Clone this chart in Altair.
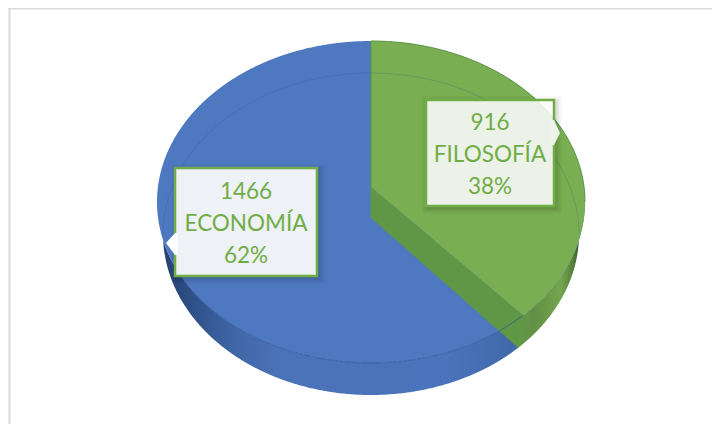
import math
import altair as alt
import pandas as pd

categories = ["ECONOMÍA", "FILOSOFÍA"]
counts = [1466, 916]
percents = ["62%", "38%"]

# picture geometry (pixels of the page)
CX, CY, RX, RY, DEPTH = 371.0, 202.0, 214.0, 161.0, 32.0
RX_LOW = 208.0
HUB = (371.0, 187.0)
TOTAL = sum(counts)
T_END = math.radians(360 * counts[1] / TOTAL * 0.973)
SEAM = (CX + RX * math.sin(T_END), CY - RY * math.cos(T_END))
BLUE_TOP = "#4e78c0"
GREEN_TOP = "#79ae52"
GREEN_IN = "#5f9746"
LABEL = "#70ad47"
PAGE_R, PAGE_B = 712, 424

SX = alt.Scale(domain=[8, PAGE_R], nice=False, zero=False)
xs = alt.X("x:Q", axis=None, scale=SX)
ys = alt.Y("y:Q", axis=None, scale=alt.Scale(domain=[PAGE_B, 8], nice=False, zero=False))


def half(x, rx=RX):
    v = 1 - ((x - CX) / rx) ** 2
    return RY * math.sqrt(max(v, 0))


def sweep(t0, t1, n=220, rx=RX):
    return [CX + rx * math.sin(math.radians(t0 + (t1 - t0) * i / n)) for i in range(n + 1)]


def lerp(p, q, x):
    return p[1] + (q[1] - p[1]) * (x - p[0]) / (q[0] - p[0])


def band(rows):
    return pd.DataFrame(rows, columns=["x", "y", "y2"])


def area(rows, **kw):
    return alt.Chart(band(rows)).mark_area(**kw).encode(x=xs, y=ys, y2="y2:Q")


def grad(stops):
    return alt.Gradient(gradient="linear", x1=0, x2=1, y1=0, y2=0,
                        stops=[alt.GradientStop(offset=o, color=c) for o, c in stops])


def line(pts, **kw):
    d = pd.DataFrame(pts, columns=["x", "y"]).assign(i=range(len(pts)))
    return alt.Chart(d).mark_line(**kw).encode(x=xs, y=ys, order="i:Q")


# bottom point of the front seam on the outer wall
seam_x_low = SEAM[0] - 5
seam_low = (seam_x_low, CY + DEPTH + half(seam_x_low, RX_LOW))
all_x = sorted(set(sweep(-90, 90, 600) + [seam_x_low]))
low_x = sorted(set(sweep(-90, 90, 600, RX_LOW) + [seam_x_low]))

wall_blue = area([(x, CY + half(x), CY + DEPTH + half(x, RX_LOW)) for x in low_x if x <= seam_x_low],
                 fill=grad([(0, "#26436f"), (0.06, "#2c4c82"), (0.2, "#4066a6"), (0.32, "#4a72b8"),
                            (0.8, "#4a74bb"), (1, "#3f68aa")]))
wall_green = area([(x, CY + half(x), CY + DEPTH + half(x, RX_LOW)) for x in low_x if x >= seam_x_low],
                  fill=grad([(0, "#659a49"), (0.25, "#628f45"), (0.7, "#74a54f"), (0.9, "#57803a"), (1, "#3a5a28")]))
top_blue = area([(x, CY - half(x), CY + half(x)) for x in all_x], fill=BLUE_TOP)

hub_low = (HUB[0], HUB[1] + 31)
inner_rows = []
for i in range(61):
    x = HUB[0] + (SEAM[0] - HUB[0]) * i / 60
    low = lerp(hub_low, seam_low, x) if x <= seam_low[0] else lerp(seam_low, SEAM, x)
    inner_rows.append((x, lerp(HUB, SEAM, x), low))
inner = area(inner_rows, fill=GREEN_IN)

top_rows = []
for x in sorted(set(sweep(0, 90) + [SEAM[0]])):
    low = lerp(HUB, SEAM, x) if x <= SEAM[0] else CY + half(x)
    top_rows.append((x, CY - half(x), low))
top_green = area(top_rows, fill=GREEN_TOP)
hub_edge = line([(HUB[0], 41), HUB, hub_low], stroke="#5f9746", strokeWidth=1)

# faint far rim seen through the top, and the front rim of the top
far_rim = line([(x, CY + DEPTH - half(x, RX_LOW)) for x in sweep(-90, 90, 440, RX_LOW)],
               stroke="#2f4f80", strokeWidth=1, opacity=0.22)
front_rim = line([(x, CY + half(x)) for x in all_x if CX - 190 <= x <= SEAM[0]],
                 stroke="#2f5597", strokeWidth=1, opacity=0.8)
outer_edge = line([(x, CY - half(x)) for x in sweep(0, 90)], stroke="#5f9746", strokeWidth=1)
seam_edge = line([SEAM, seam_low], stroke="#5f9746", strokeWidth=1)

# frame
frame_top = alt.Chart(pd.DataFrame({"x": [8], "x2": [PAGE_R], "y": [8.5]})).mark_rule(stroke="#d9d9d9", strokeWidth=2).encode(
    x=xs, x2="x2:Q", y=ys)
frame_left = alt.Chart(pd.DataFrame({"x": [9.5], "y": [8], "y2": [PAGE_B]})).mark_rule(stroke="#d9d9d9", strokeWidth=2).encode(
    x=xs, y=ys, y2="y2:Q")


def box(x0, x1, y0, y1, tip, base0, base1, side, inward, fill, fill_op, tip_fill, cat, n, pct):
    d = pd.DataFrame({"x": [x0], "x2": [x1], "y": [y0], "y2": [y1]})
    parts = []
    for grow, op in [(6, 0.02), (4.5, 0.03), (3, 0.04), (1.5, 0.05)]:
        s = pd.DataFrame({"x": [x0 + 2 - grow], "x2": [x1 + 2 + grow], "y": [y0 + 2 - grow], "y2": [y1 + 2 + grow]})
        parts.append(alt.Chart(s).mark_rect(fill="#000000", opacity=op).encode(x=xs, x2="x2:Q", y=ys, y2="y2:Q"))
    parts.append(alt.Chart(d).mark_rect(fill=fill, fillOpacity=fill_op, stroke=LABEL, strokeWidth=2.5).encode(
        x=xs, x2="x2:Q", y=ys, y2="y2:Q"))
    pts = sorted([(side + inward, base0, base1), (side, base0, base1), (tip[0], tip[1], tip[1])])
    parts.append(area(pts, fill=tip_fill))
    cx = (x0 + x1) / 2
    cy = (y0 + y1) / 2 + 2
    t = pd.DataFrame({"x": [cx] * 3, "y": [cy - 32, cy, cy + 32], "s": [str(n), cat, pct]})
    parts.append(alt.Chart(t).mark_text(font="Lato", fontSize=22.5, color=LABEL, baseline="middle", align="center").encode(
        x=xs, y=ys, text="s:N"))
    return parts


chart = alt.layer(
    frame_top, frame_left, wall_blue, wall_green, top_blue, inner, top_green, hub_edge,
    far_rim, front_rim, outer_edge, seam_edge,
    *box(175, 317, 168, 276, (166, 243), 233, 255, 175, 3, "#eef1f5", 1, "#ffffff", categories[0], counts[0], percents[0]),
    *box(426, 554, 100, 206, (560, 133), 120, 145, 554, -3, "#ffffff", 0.88, "#eef3eb", categories[1], counts[1], percents[1]),
).properties(width=PAGE_R - 8, height=PAGE_B - 8, padding=0, autosize=alt.AutoSizeParams(type="none")).configure_view(stroke=None)

chart.save("out.html", embed_options={"renderer": "svg", "actions": False})
